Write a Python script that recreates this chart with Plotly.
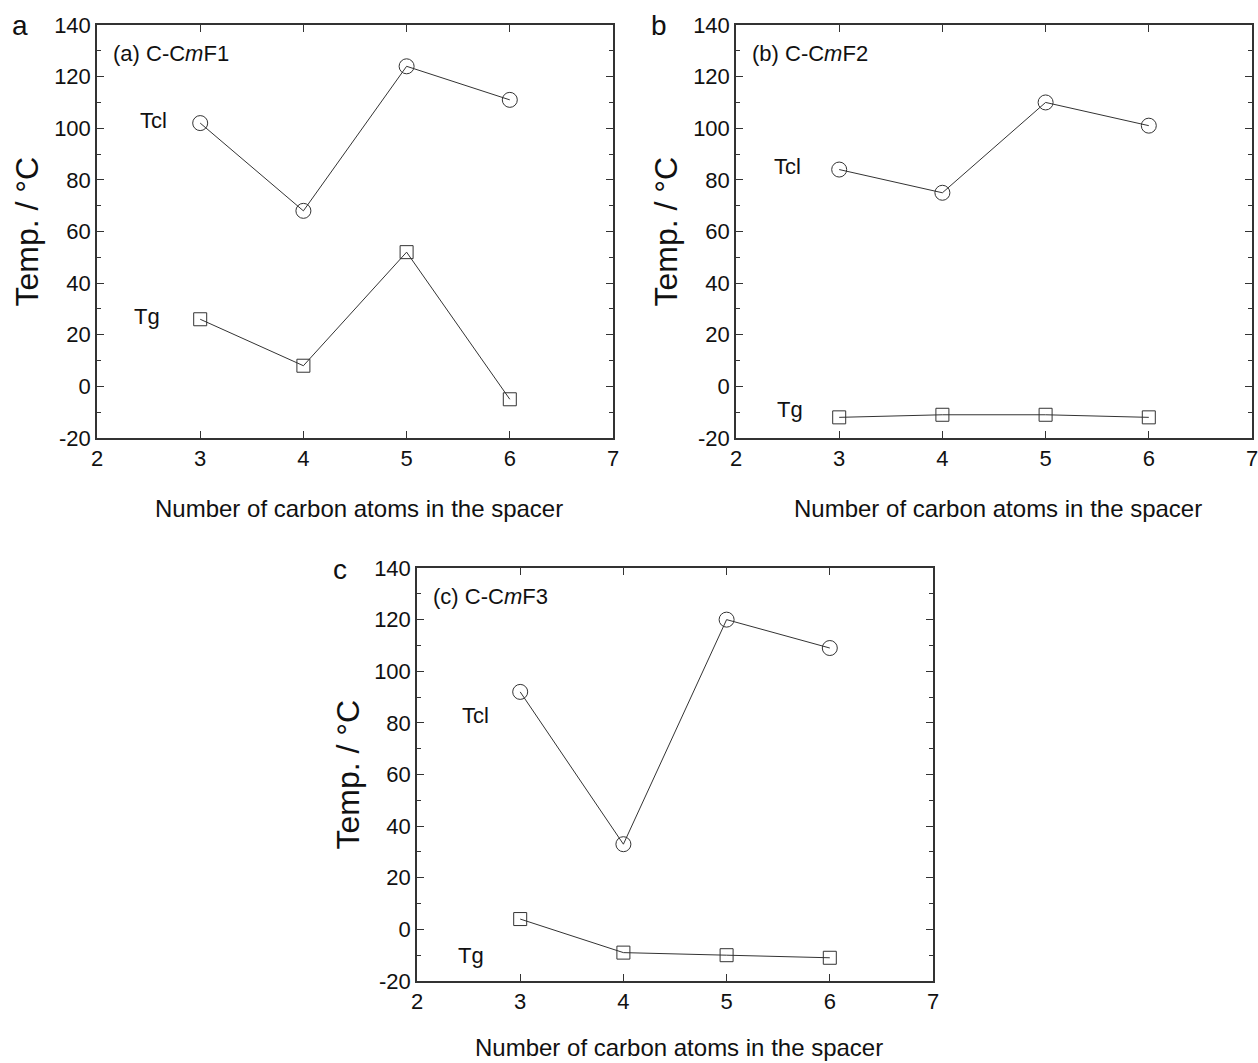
import plotly.graph_objects as go

# Data
spacer = [3, 4, 5, 6]
tcl_a = [102, 68, 124, 111]
tg_a = [26, 8, 52, -5]
tcl_b = [84, 75, 110, 101]
tg_b = [-12, -11, -11, -12]
tcl_c = [92, 33, 120, 109]
tg_c = [4, -9, -10, -11]
y_ticks = [-20, 0, 20, 40, 60, 80, 100, 120, 140]
y_ticktext = ["-20", "0", "20", "40", "60", "80", "100", "120", "140"]
x_ticks = [2, 3, 4, 5, 6, 7]
panel_titles = ["(a) C-C<i>m</i>F1", "(b) C-C<i>m</i>F2", "(c) C-C<i>m</i>F3"]
panel_letters = ["a", "b", "c"]

W, H = 1258, 1063
FONT = "Arial, Liberation Sans, sans-serif"
LC = "#333333"
TC = "#111111"
OFF = 0  # body margin removed via post_script

# pixel boxes on screen: (left, right, top, bottom)
boxes = [(97, 613, 25, 438), (736, 1252, 25, 438), (417, 933, 568, 981)]
xtitle_dy = [70, 70, 66]

def px2x(p):
    return (p - OFF) / W

def px2y(p):
    return 1 - (p - OFF) / H

fig = go.Figure()
series = [(tcl_a, tg_a), (tcl_b, tg_b), (tcl_c, tg_c)]

for i, (tcl, tg) in enumerate(series):
    sfx = "" if i == 0 else str(i + 1)
    fig.add_trace(go.Scatter(x=spacer, y=tcl, mode="lines+markers",
                             xaxis="x" + sfx, yaxis="y" + sfx,
                             line=dict(color=LC, width=1),
                             marker=dict(symbol="circle-open", size=15, color=LC, line=dict(width=1)),
                             showlegend=False, hoverinfo="skip"))
    fig.add_trace(go.Scatter(x=spacer, y=tg, mode="lines+markers",
                             xaxis="x" + sfx, yaxis="y" + sfx,
                             line=dict(color=LC, width=1),
                             marker=dict(symbol="square-open", size=13, color=LC, line=dict(width=1)),
                             showlegend=False, hoverinfo="skip"))

layout = dict(width=W, height=H, margin=dict(l=0, r=0, t=0, b=0, autoexpand=False),
              template="none",
              paper_bgcolor="white", plot_bgcolor="white",
              font=dict(family=FONT, color=TC))

annotations = []
for i, (l, r, t, b) in enumerate(boxes):
    sfx = "" if i == 0 else str(i + 1)
    layout["xaxis" + sfx] = dict(
        domain=[px2x(l), px2x(r)], anchor="y" + sfx, range=[2, 7],
        tickvals=x_ticks, ticktext=[str(v) for v in x_ticks], automargin=False,
        ticklabeloverflow="allow",
        ticks="inside", ticklen=7, tickcolor=LC, showline=True, linecolor=LC, linewidth=1.5,
        mirror="ticks", showgrid=False, zeroline=False,
        tickfont=dict(size=22, family=FONT, color=TC))
    layout["yaxis" + sfx] = dict(
        domain=[px2y(b), px2y(t)], anchor="x" + sfx, range=[-20, 140],
        tickvals=y_ticks, ticktext=y_ticktext, automargin=False,
        ticklabeloverflow="allow",
        ticks="inside", ticklen=7, tickcolor=LC, showline=True, linecolor=LC, linewidth=1.5,
        mirror="ticks", showgrid=False, zeroline=False,
        minor=dict(dtick=10, ticks="inside", ticklen=4, tickcolor=LC, showgrid=False),
        tickfont=dict(size=22, family=FONT, color=TC))
    # Y title
    annotations.append(dict(text="Temp. / °C", x=px2x(l - 70), y=px2y((t + b) / 2),
                            xref="paper", yref="paper", textangle=-90, showarrow=False,
                            font=dict(size=32, family=FONT, color=TC),
                            xanchor="center", yanchor="middle"))
    # X title
    annotations.append(dict(text="Number of carbon atoms in the spacer", x=px2x((l + r) / 2 + 4),
                            y=px2y(b + xtitle_dy[i]), xref="paper", yref="paper", showarrow=False,
                            font=dict(size=24, family=FONT, color=TC),
                            xanchor="center", yanchor="middle"))
    # panel letter
    annotations.append(dict(text=panel_letters[i], x=px2x(l - 77), y=px2y(t + 1),
                            xref="paper", yref="paper", showarrow=False,
                            font=dict(size=28, family=FONT, color=TC),
                            xanchor="center", yanchor="middle"))
    # panel title
    annotations.append(dict(text=panel_titles[i], x=px2x(l + 14), y=px2y(t + 28),
                            xref="paper", yref="paper", showarrow=False,
                            font=dict(size=22, family=FONT, color=TC),
                            xanchor="left", yanchor="middle"))

# series labels (x, y in data coords per panel)
labels = [("Tcl", 2.55, 103, ""), ("Tg", 2.48, 27, ""),
          ("Tcl", 2.5, 85, "2"), ("Tg", 2.52, -9, "2"),
          ("Tcl", 2.57, 83, "3"), ("Tg", 2.52, -10, "3")]
for txt, xv, yv, sfx in labels:
    annotations.append(dict(text=txt, x=xv, y=yv, xref="x" + sfx, yref="y" + sfx,
                            showarrow=False, font=dict(size=22, family=FONT, color=TC)))

layout["annotations"] = annotations
fig.update_layout(**layout)
fig.write_html("out.html",
               config={"displayModeBar": False},
               post_script="document.body.style.margin='0';"
                           "document.body.style.overflow='hidden';"
                           "document.documentElement.style.overflow='hidden';")
